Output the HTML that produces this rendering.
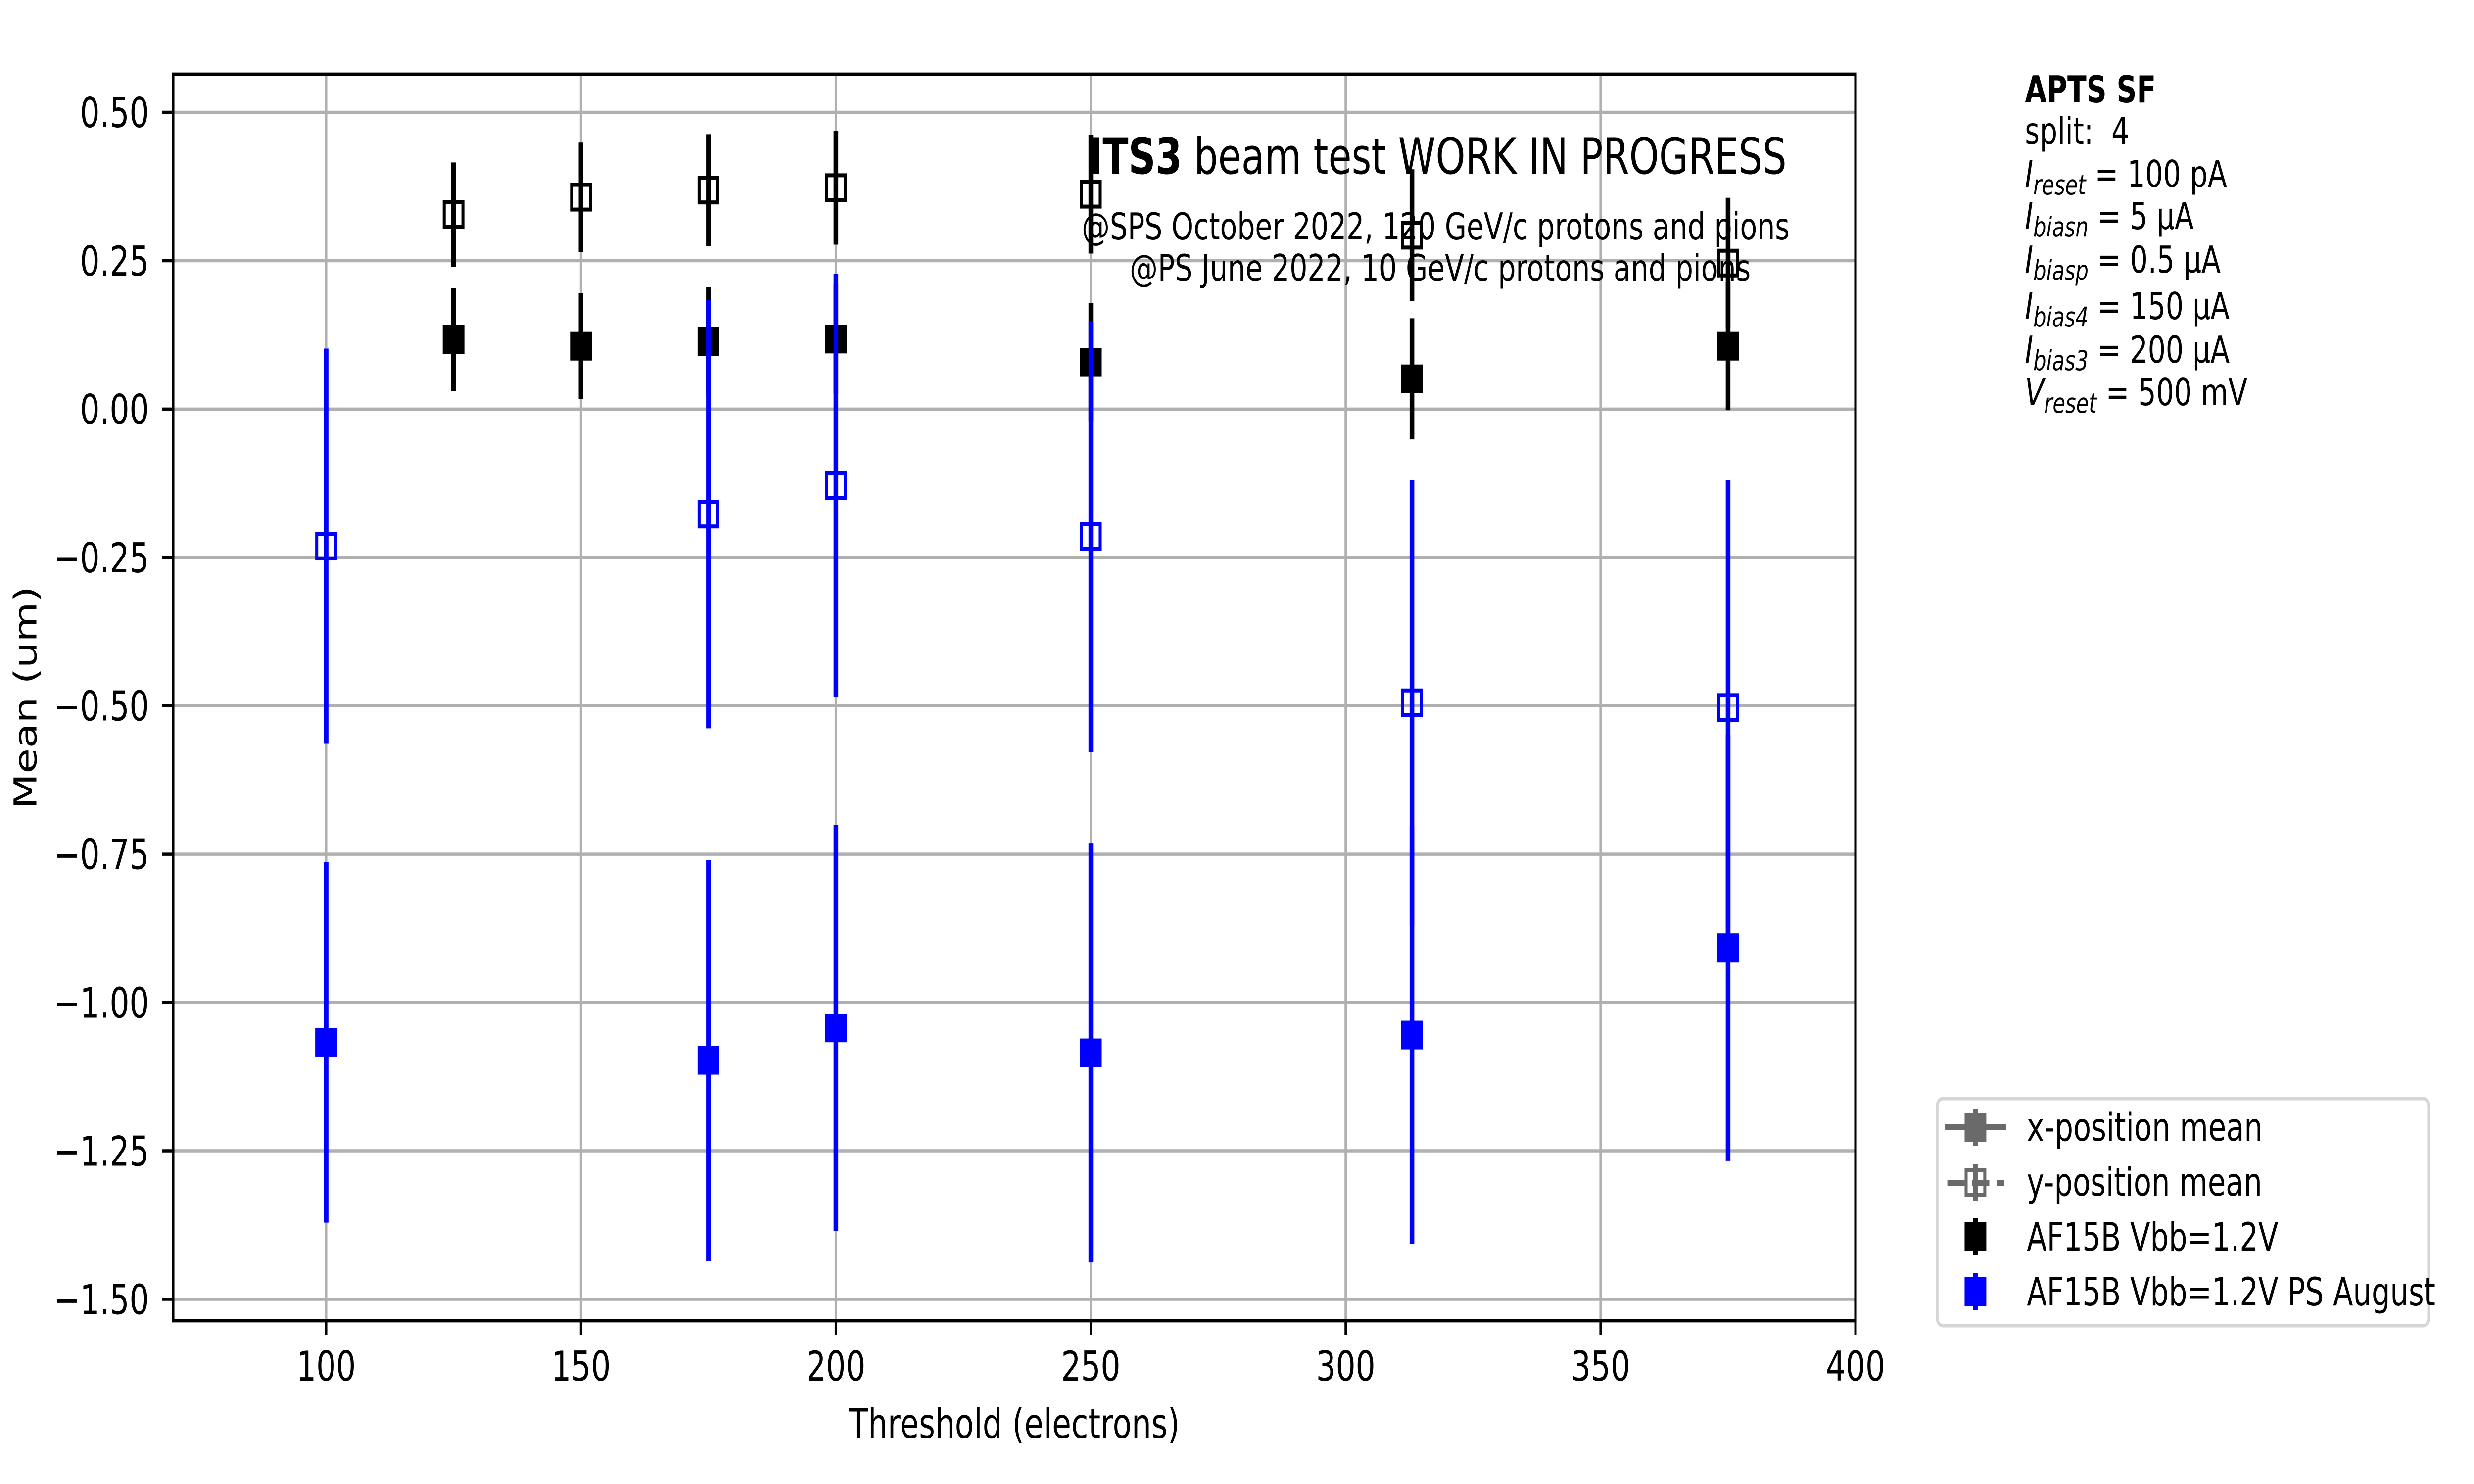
<!DOCTYPE html>
<html><head><meta charset="utf-8"><meta name="viewport" content="width=device-width, initial-scale=1">
<style>
html,body{margin:0;padding:0;background:#fff;width:100%;height:100%;overflow:hidden;}
svg{display:block;position:absolute;left:0;top:0;width:100vw;height:100vh;font-family:"DejaVu Sans","Liberation Sans",sans-serif;}
</style></head><body>
<svg id="chart" viewBox="0 0 6600 3000" preserveAspectRatio="none" xmlns="http://www.w3.org/2000/svg">
<rect width="6600" height="3000" fill="#fff"/>
<g id="grid"></g>
<g id="series"></g>
<g id="axes"></g>
<text x="3835" y="351" font-size="101" text-anchor="middle"><tspan font-weight="bold">ITS3</tspan> beam test WORK IN PROGRESS</text>
<text x="3830" y="484" font-size="75" text-anchor="middle">@SPS October 2022, 120 GeV/c protons and pions</text>
<text x="3842" y="568" font-size="75" text-anchor="middle">@PS June 2022, 10 GeV/c protons and pions</text>
<g font-size="75">
<text x="5402" y="207" font-weight="bold">APTS SF</text>
<text x="5402" y="291" xml:space="preserve">split:  4</text>
<text x="5402" y="378"><tspan font-style="italic">I</tspan><tspan font-style="italic" font-size="55" dy="15">reset</tspan><tspan dy="-15"> = 100 pA</tspan></text>
<text x="5402" y="463"><tspan font-style="italic">I</tspan><tspan font-style="italic" font-size="55" dy="15">biasn</tspan><tspan dy="-15"> = 5 μA</tspan></text>
<text x="5402" y="551"><tspan font-style="italic">I</tspan><tspan font-style="italic" font-size="55" dy="15">biasp</tspan><tspan dy="-15"> = 0.5 μA</tspan></text>
<text x="5402" y="645"><tspan font-style="italic">I</tspan><tspan font-style="italic" font-size="55" dy="15">bias4</tspan><tspan dy="-15"> = 150 μA</tspan></text>
<text x="5402" y="733"><tspan font-style="italic">I</tspan><tspan font-style="italic" font-size="55" dy="15">bias3</tspan><tspan dy="-15"> = 200 μA</tspan></text>
<text x="5402" y="819"><tspan font-style="italic">V</tspan><tspan font-style="italic" font-size="55" dy="15">reset</tspan><tspan dy="-15"> = 500 mV</tspan></text>
</g>
<g>
<rect x="5168" y="2221" width="1312" height="459" rx="15" fill="#fff" stroke="#d6d6d6" stroke-width="7"/>
<g>
<line x1="5189" y1="2279" x2="5352" y2="2279" stroke="#6a6a6a" stroke-width="12"/>
<line x1="5270" y1="2242" x2="5270" y2="2317" stroke="#6a6a6a" stroke-width="12"/>
<rect x="5241" y="2250" width="58" height="58" fill="#6a6a6a"/>
<text x="5407" y="2306" font-size="78">x-position mean</text></g>
<g>
<line x1="5195" y1="2391" x2="5346" y2="2391" stroke="#6a6a6a" stroke-width="12" stroke-dasharray="46,20"/>
<line x1="5270" y1="2353" x2="5270" y2="2428" stroke="#6a6a6a" stroke-width="12"/>
<rect x="5245" y="2366" width="50" height="50" fill="none" stroke="#6a6a6a" stroke-width="8"/>
<text x="5407" y="2417" font-size="78">y-position mean</text></g>
<g>
<line x1="5270" y1="2463" x2="5270" y2="2538" stroke="#000" stroke-width="12"/>
<rect x="5241" y="2471" width="58" height="58" fill="#000"/>
<text x="5407" y="2528" font-size="78">AF15B Vbb=1.2V</text></g>
<g>
<line x1="5270" y1="2574" x2="5270" y2="2649" stroke="#00f" stroke-width="12"/>
<rect x="5241" y="2582" width="58" height="58" fill="#00f"/>
<text x="5407" y="2639" font-size="78">AF15B Vbb=1.2V PS August</text></g>
</g>
</svg>
<script>
const xTicks = [100, 150, 200, 250, 300, 350, 400];
const yTicks = [0.5, 0.25, 0, -0.25, -0.5, -0.75, -1.0, -1.25, -1.5];
const yTickLabels = ["0.50","0.25","0.00","\u22120.25","\u22120.50","\u22120.75","\u22121.00","\u22121.25","\u22121.50"];
const sfThr = [125, 150, 175, 200, 250, 313, 375];
const sfXMean = [0.117, 0.106, 0.1135, 0.118, 0.0786, 0.051, 0.106];
const sfXErr = [0.087, 0.089, 0.092, 0.092, 0.10, 0.102, 0.108];
const sfYMean = [0.3275, 0.357, 0.369, 0.373, 0.362, 0.293, 0.246];
const sfYErr = [0.088, 0.092, 0.094, 0.096, 0.10, 0.111, 0.11];
const psThr = [100, 175, 200, 250, 313, 375];
const psXMean = [-1.067, -1.0975, -1.043, -1.085, -1.055, -0.908];
const psXErr = [0.304, 0.338, 0.342, 0.353, 0.352, 0.359];
const psYMean = [-0.231, -0.177, -0.129, -0.215, -0.495, -0.503];
const psYErr = [0.333, 0.361, 0.357, 0.363, 0.375, 0.383];

const L = 462, R = 4950, T = 150, B = 2670;
const xMin = 70, xMax = 400, yMin = -1.5363, yMax = 0.5642;
const NS = "http://www.w3.org/2000/svg";
function X(v){ return L + (v - xMin) / (xMax - xMin) * (R - L); }
function Y(v){ return B - (v - yMin) / (yMax - yMin) * (B - T); }
function mk(tag, attrs, parent){ const e = document.createElementNS(NS, tag); for (const k in attrs) e.setAttribute(k, attrs[k]); parent.appendChild(e); return e; }

const grid = document.getElementById('grid');
const axes = document.getElementById('axes');
const series = document.getElementById('series');

xTicks.forEach(t => {
  const g = mk('line', {x1: X(t), x2: X(t), y1: T, y2: B, stroke: '#b0b0b0', 'stroke-width': 6.5}, grid);
  
  
  const tk = mk('line', {x1: X(t), x2: X(t), y1: B, y2: B + 29, stroke: '#000', 'stroke-width': 6.5}, axes);
  
  
  const lb = mk('text', {x: X(t), y: 2791, 'font-size': 83, 'text-anchor': 'middle'}, axes);
  lb.textContent = String(t);
  
  
});
yTicks.forEach((t, i) => {
  const g = mk('line', {x1: L, x2: R, y1: Y(t), y2: Y(t), stroke: '#b0b0b0', 'stroke-width': 6.5}, grid);
  
  
  const tk = mk('line', {x1: L - 29, x2: L, y1: Y(t), y2: Y(t), stroke: '#000', 'stroke-width': 6.5}, axes);
  
  
  const lb = mk('text', {x: 398, y: Y(t) + 30, 'font-size': 83, 'text-anchor': 'end'}, axes);
  lb.textContent = yTickLabels[i];
  
  
});
const frame = mk('rect', {x: L, y: T, width: R - L, height: B - T, fill: 'none', stroke: '#000', 'stroke-width': 6.7}, axes);


const xl = mk('text', {x: (L + R) / 2, y: 2907, 'font-size': 83, 'text-anchor': 'middle'}, axes);
xl.textContent = 'Threshold (electrons)';


const yl = mk('text', {x: 0, y: 0, 'font-size': 83, 'text-anchor': 'middle', transform: 'translate(97,1410) rotate(-90)'}, axes);
yl.textContent = 'Mean (um)';



function drawSeries(xs, ms, es, color, filled, name){
  const g = mk('g', {}, series);
  
  
  xs.forEach((x, i) => {
    const eb = mk('line', {x1: X(x), x2: X(x), y1: Y(ms[i] + es[i]), y2: Y(ms[i] - es[i]), stroke: color, 'stroke-width': 12.5}, g);
    
    
  });
  xs.forEach((x, i) => {
    let m;
    if (filled) m = mk('rect', {x: X(x) - 29, y: Y(ms[i]) - 29, width: 58, height: 58, fill: color}, g);
    else m = mk('rect', {x: X(x) - 25, y: Y(ms[i]) - 25, width: 50, height: 50, fill: 'none', stroke: color, 'stroke-width': 8}, g);
    
    
  });
}
drawSeries(sfThr, sfYMean, sfYErr, '#000', false, 'af15b-y-mean');
drawSeries(sfThr, sfXMean, sfXErr, '#000', true, 'af15b-x-mean');
drawSeries(psThr, psYMean, psYErr, '#00f', false, 'af15b-ps-y-mean');
drawSeries(psThr, psXMean, psXErr, '#00f', true, 'af15b-ps-x-mean');
</script>
</body></html>
